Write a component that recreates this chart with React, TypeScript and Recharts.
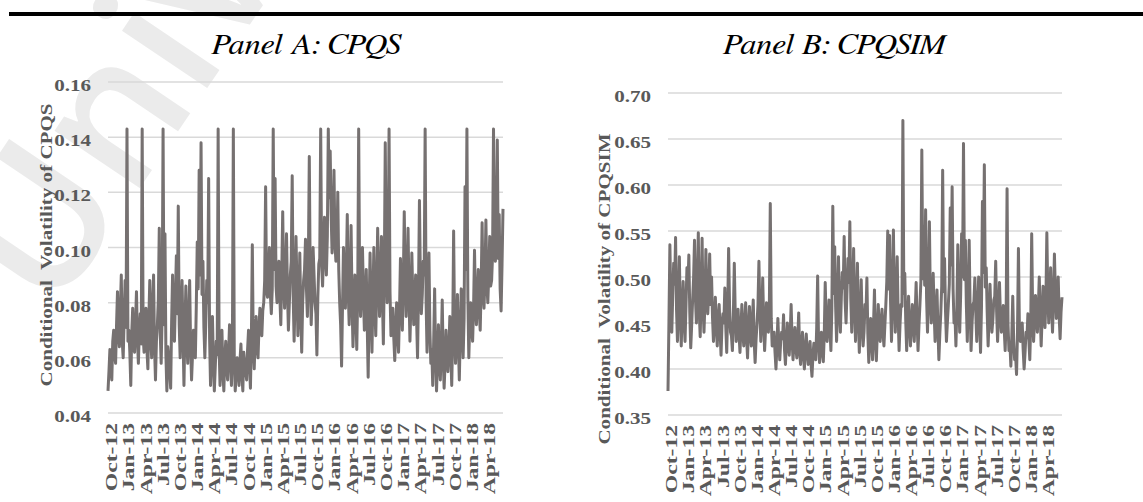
import React from 'react';
import { LineChart, Line, XAxis, YAxis, CartesianGrid } from 'recharts';

// Quarterly date labels on the horizontal axis (months since Oct 2012: 0, 3, 6, ...)
const quarterLabels = [
  'Oct-12', 'Jan-13', 'Apr-13', 'Jul-13', 'Oct-13', 'Jan-14', 'Apr-14', 'Jul-14',
  'Oct-14', 'Jan-15', 'Apr-15', 'Jul-15', 'Oct-15', 'Jan-16', 'Apr-16', 'Jul-16',
  'Oct-16', 'Jan-17', 'Apr-17', 'Jul-17', 'Oct-17', 'Jan-18', 'Apr-18',
];

// Observation window, in months since Oct 2012
const FIRST_MONTH = -0.6;
const LAST_MONTH = 68.4;

// Panel A: conditional volatility of CPQS
const cpqs = [
  0.048, 0.055, 0.063, 0.057, 0.052, 0.066, 0.070, 0.061, 0.058, 0.072, 0.084, 0.068, 0.064, 0.078, 0.090, 0.066, 0.060, 0.074, 0.088, 0.071,
  0.143, 0.066, 0.070, 0.062, 0.050, 0.069, 0.078, 0.064, 0.062, 0.073, 0.084, 0.067, 0.058, 0.070, 0.076, 0.065, 0.143, 0.068, 0.062, 0.071,
  0.078, 0.063, 0.056, 0.074, 0.088, 0.067, 0.060, 0.079, 0.090, 0.064, 0.052, 0.066, 0.072, 0.081, 0.107, 0.069, 0.058, 0.075, 0.143, 0.072,
  0.105, 0.061, 0.048, 0.064, 0.060, 0.055, 0.049, 0.073, 0.090, 0.070, 0.066, 0.082, 0.097, 0.076, 0.115, 0.072, 0.060, 0.074, 0.088, 0.068,
  0.050, 0.071, 0.086, 0.066, 0.058, 0.075, 0.088, 0.064, 0.052, 0.061, 0.070, 0.066, 0.060, 0.079, 0.102, 0.085, 0.128, 0.090, 0.138, 0.083,
  0.095, 0.071, 0.060, 0.073, 0.088, 0.080, 0.125, 0.067, 0.050, 0.062, 0.075, 0.058, 0.048, 0.057, 0.066, 0.061, 0.143, 0.064, 0.050, 0.058,
  0.070, 0.055, 0.048, 0.060, 0.066, 0.056, 0.052, 0.062, 0.072, 0.059, 0.050, 0.063, 0.143, 0.060, 0.048, 0.054, 0.060, 0.057, 0.050, 0.059,
  0.065, 0.054, 0.048, 0.062, 0.058, 0.055, 0.052, 0.063, 0.070, 0.058, 0.049, 0.067, 0.101, 0.064, 0.056, 0.068, 0.075, 0.063, 0.060, 0.071,
  0.078, 0.072, 0.068, 0.077, 0.080, 0.088, 0.122, 0.084, 0.082, 0.090, 0.100, 0.083, 0.076, 0.085, 0.143, 0.092, 0.125, 0.086, 0.080, 0.088,
  0.095, 0.082, 0.072, 0.091, 0.113, 0.087, 0.078, 0.089, 0.105, 0.084, 0.070, 0.080, 0.090, 0.095, 0.126, 0.083, 0.066, 0.081, 0.104, 0.086,
  0.068, 0.079, 0.098, 0.077, 0.062, 0.080, 0.088, 0.092, 0.103, 0.085, 0.075, 0.094, 0.133, 0.088, 0.072, 0.083, 0.100, 0.090, 0.080, 0.076,
  0.061, 0.082, 0.094, 0.096, 0.143, 0.094, 0.086, 0.099, 0.111, 0.097, 0.090, 0.104, 0.143, 0.118, 0.135, 0.112, 0.098, 0.106, 0.128, 0.102,
  0.095, 0.098, 0.120, 0.092, 0.080, 0.072, 0.057, 0.079, 0.100, 0.088, 0.078, 0.091, 0.112, 0.084, 0.072, 0.087, 0.108, 0.081, 0.064, 0.076,
  0.090, 0.077, 0.063, 0.084, 0.143, 0.088, 0.075, 0.086, 0.100, 0.083, 0.070, 0.081, 0.092, 0.072, 0.053, 0.078, 0.098, 0.079, 0.062, 0.082,
  0.100, 0.079, 0.068, 0.086, 0.107, 0.089, 0.075, 0.087, 0.104, 0.082, 0.065, 0.091, 0.138, 0.095, 0.080, 0.093, 0.143, 0.084, 0.068, 0.073,
  0.078, 0.067, 0.059, 0.071, 0.080, 0.069, 0.062, 0.077, 0.096, 0.081, 0.070, 0.087, 0.113, 0.090, 0.075, 0.086, 0.107, 0.083, 0.066, 0.079,
  0.098, 0.082, 0.072, 0.080, 0.090, 0.074, 0.060, 0.084, 0.117, 0.088, 0.076, 0.083, 0.095, 0.090, 0.143, 0.081, 0.062, 0.077, 0.098, 0.070,
  0.058, 0.063, 0.050, 0.066, 0.085, 0.061, 0.048, 0.059, 0.072, 0.057, 0.052, 0.064, 0.081, 0.060, 0.049, 0.058, 0.070, 0.061, 0.055, 0.063,
  0.075, 0.062, 0.050, 0.068, 0.106, 0.070, 0.058, 0.067, 0.083, 0.065, 0.052, 0.069, 0.085, 0.071, 0.060, 0.074, 0.122, 0.092, 0.143, 0.082,
  0.060, 0.073, 0.080, 0.071, 0.066, 0.078, 0.099, 0.080, 0.072, 0.083, 0.092, 0.077, 0.070, 0.086, 0.109, 0.084, 0.078, 0.089, 0.110, 0.087,
  0.080, 0.090, 0.104, 0.086, 0.088, 0.097, 0.143, 0.101, 0.095, 0.108, 0.139, 0.096, 0.112, 0.085, 0.077, 0.094, 0.114,
];

// Panel B: conditional volatility of CPQSIM
const cpqsim = [
  0.376, 0.452, 0.535, 0.470, 0.440, 0.480, 0.515, 0.492, 0.543, 0.465, 0.430, 0.478, 0.522, 0.458, 0.425, 0.466, 0.495, 0.452, 0.430, 0.470,
  0.510, 0.488, 0.524, 0.461, 0.423, 0.448, 0.475, 0.498, 0.540, 0.476, 0.450, 0.490, 0.548, 0.462, 0.435, 0.482, 0.542, 0.468, 0.440, 0.472,
  0.530, 0.476, 0.460, 0.484, 0.525, 0.470, 0.500, 0.456, 0.430, 0.452, 0.478, 0.446, 0.425, 0.455, 0.470, 0.442, 0.415, 0.448, 0.460, 0.450,
  0.488, 0.446, 0.418, 0.462, 0.531, 0.468, 0.440, 0.436, 0.420, 0.458, 0.515, 0.460, 0.430, 0.447, 0.465, 0.438, 0.418, 0.444, 0.470, 0.440,
  0.425, 0.448, 0.472, 0.434, 0.412, 0.446, 0.468, 0.437, 0.425, 0.452, 0.475, 0.430, 0.407, 0.432, 0.450, 0.470, 0.517, 0.461, 0.430, 0.456,
  0.499, 0.452, 0.420, 0.443, 0.472, 0.451, 0.440, 0.466, 0.580, 0.455, 0.425, 0.437, 0.440, 0.418, 0.400, 0.425, 0.455, 0.428, 0.410, 0.430,
  0.440, 0.433, 0.459, 0.421, 0.405, 0.429, 0.450, 0.426, 0.415, 0.437, 0.470, 0.432, 0.410, 0.427, 0.445, 0.424, 0.412, 0.433, 0.461, 0.419,
  0.405, 0.426, 0.440, 0.415, 0.400, 0.422, 0.438, 0.418, 0.405, 0.420, 0.430, 0.406, 0.392, 0.414, 0.428, 0.417, 0.410, 0.445, 0.501, 0.428,
  0.407, 0.424, 0.440, 0.419, 0.408, 0.438, 0.494, 0.451, 0.430, 0.447, 0.475, 0.444, 0.420, 0.466, 0.577, 0.482, 0.533, 0.468, 0.430, 0.472,
  0.522, 0.464, 0.440, 0.478, 0.505, 0.488, 0.544, 0.474, 0.450, 0.485, 0.520, 0.494, 0.560, 0.476, 0.440, 0.483, 0.531, 0.466, 0.430, 0.470,
  0.515, 0.455, 0.418, 0.452, 0.497, 0.449, 0.425, 0.441, 0.470, 0.459, 0.499, 0.438, 0.407, 0.436, 0.455, 0.429, 0.410, 0.448, 0.486, 0.433,
  0.409, 0.440, 0.470, 0.444, 0.430, 0.451, 0.465, 0.439, 0.425, 0.448, 0.470, 0.495, 0.550, 0.487, 0.545, 0.472, 0.430, 0.481, 0.551, 0.476,
  0.440, 0.480, 0.522, 0.458, 0.420, 0.449, 0.470, 0.468, 0.670, 0.482, 0.504, 0.453, 0.420, 0.455, 0.479, 0.447, 0.425, 0.450, 0.470, 0.446,
  0.430, 0.461, 0.494, 0.452, 0.420, 0.448, 0.470, 0.495, 0.638, 0.498, 0.555, 0.491, 0.573, 0.478, 0.440, 0.486, 0.560, 0.474, 0.450, 0.470,
  0.504, 0.462, 0.430, 0.459, 0.486, 0.444, 0.410, 0.438, 0.460, 0.490, 0.616, 0.484, 0.520, 0.463, 0.430, 0.451, 0.470, 0.492, 0.575, 0.513,
  0.598, 0.487, 0.450, 0.458, 0.425, 0.467, 0.535, 0.472, 0.440, 0.481, 0.547, 0.500, 0.645, 0.497, 0.540, 0.470, 0.430, 0.476, 0.540, 0.465,
  0.420, 0.449, 0.470, 0.473, 0.499, 0.461, 0.430, 0.463, 0.500, 0.452, 0.418, 0.468, 0.582, 0.505, 0.622, 0.489, 0.510, 0.462, 0.425, 0.455,
  0.492, 0.458, 0.440, 0.454, 0.475, 0.479, 0.517, 0.462, 0.430, 0.460, 0.494, 0.457, 0.440, 0.452, 0.469, 0.443, 0.420, 0.454, 0.596, 0.448,
  0.420, 0.428, 0.403, 0.436, 0.479, 0.431, 0.410, 0.415, 0.394, 0.440, 0.531, 0.447, 0.430, 0.433, 0.450, 0.421, 0.400, 0.418, 0.440, 0.434,
  0.460, 0.432, 0.410, 0.450, 0.547, 0.463, 0.430, 0.452, 0.480, 0.458, 0.440, 0.467, 0.500, 0.460, 0.425, 0.456, 0.490, 0.471, 0.445, 0.474,
  0.548, 0.482, 0.450, 0.473, 0.510, 0.466, 0.440, 0.477, 0.525, 0.484, 0.455, 0.479, 0.500, 0.458, 0.433, 0.462, 0.478,
];

const cpqsTicks = [0.04, 0.06, 0.08, 0.10, 0.12, 0.14, 0.16];
const cpqsimTicks = [0.35, 0.40, 0.45, 0.50, 0.55, 0.60, 0.65, 0.70];

const SERIF = "'Liberation Serif', 'Times New Roman', serif";
const SERIF_ITALIC = "FreeSerif, 'Liberation Serif', serif";
const AXIS_GREY = '#595959';
const LINE_GREY = '#767171';
const GRID_GREY = '#d9d9d9';
const WIDE = 1.24; // horizontal widening of the bold axis lettering
const WIDE_DATES = 1.39;

// Spread observations evenly over the sampling window
const toRows = (values: number[]) =>
  values.map((v, i) => ({
    month: FIRST_MONTH + (i * (LAST_MONTH - FIRST_MONTH)) / (values.length - 1),
    v,
  }));

const cpqsRows = toRows(cpqs);
const cpqsimRows = toRows(cpqsim);
const quarterTicks = quarterLabels.map((_, k) => k * 3);

const DateTick = (props: any) => {
  const { x, y, payload } = props;
  const label = quarterLabels[Math.round(payload.value / 3)];
  return (
    <g transform={`translate(${x},${y + 10}) rotate(-90) scale(${WIDE_DATES},1)`}>
      <text
        x={0}
        y={0}
        dy="0.34em"
        textAnchor="end"
        fontFamily={SERIF}
        fontWeight="bold"
        fontSize={17}
        fill={AXIS_GREY}
      >
        {label}
      </text>
    </g>
  );
};

const ValueTick = (props: any) => {
  const { x, y, payload } = props;
  return (
    <g transform={`translate(${x - 17},${y + 9}) scale(${WIDE},1)`}>
      <text
        x={0}
        y={0}
        textAnchor="end"
        fontFamily={SERIF}
        fontWeight="bold"
        fontSize={17}
        fill={AXIS_GREY}
      >
        {Number(payload.value).toFixed(2)}
      </text>
    </g>
  );
};

type PanelProps = {
  rows: { month: number; v: number }[];
  ticks: number[];
  width: number;
  margin: { top: number; right: number; bottom: number; left: number };
};

const Panel = ({ rows, ticks, width, margin }: PanelProps) => (
  <LineChart width={width} height={502} data={rows} margin={margin}>
    <CartesianGrid vertical={false} stroke={GRID_GREY} strokeWidth={1.5} />
    <XAxis
      type="number"
      dataKey="month"
      domain={[FIRST_MONTH, LAST_MONTH]}
      ticks={quarterTicks}
      interval={0}
      height={80}
      axisLine={false}
      tickLine={false}
      tickSize={0}
      tickMargin={0}
      tick={<DateTick />}
    />
    <YAxis
      type="number"
      domain={[ticks[0], ticks[ticks.length - 1]]}
      ticks={ticks}
      interval={0}
      width={60}
      axisLine={false}
      tickLine={false}
      tickSize={0}
      tickMargin={0}
      tick={<ValueTick />}
    />
    <Line
      type="linear"
      dataKey="v"
      stroke={LINE_GREY}
      strokeWidth={3}
      strokeLinejoin="round"
      dot={false}
      isAnimationActive={false}
    />
  </LineChart>
);

const AxisTitle = ({ x, y, text }: { x: number; y: number; text: string }) => (
  <g transform={`translate(${x},${y}) rotate(-90) scale(${WIDE},1)`}>
    <text
      x={0}
      y={0}
      textAnchor="middle"
      fontFamily={SERIF}
      fontWeight="bold"
      fontSize={17}
      fill={AXIS_GREY}
      xmlSpace="preserve"
    >
      {text}
    </text>
  </g>
);

const PanelTitle = ({ x, text }: { x: number; text: string }) => (
  <g transform={`translate(${x},54) scale(1.12,1)`}>
    <text x={0} y={0} textAnchor="middle" fontFamily={SERIF_ITALIC} fontStyle="italic" fontSize={29} fill="#000">
      {text}
    </text>
  </g>
);

export default function App() {
  return (
    <div
      style={{
        position: 'absolute',
        left: 0,
        top: 0,
        width: 1143,
        height: 502,
        background: '#ffffff',
        overflow: 'hidden',
      }}
    >
      <svg width={1143} height={502} style={{ position: 'absolute', left: 0, top: 0 }}>
        <text
          x={52}
          y={318}
          transform="rotate(-56 52 318)"
          fontFamily="'Open Sans', sans-serif"
          fontWeight={600}
          fontSize={190}
          fill="#ebebeb"
        >
          Univ
        </text>
        <rect x={9} y={12} width={1134} height={4} fill="#000" />
      </svg>
      <div style={{ position: 'absolute', left: 0, top: 0 }}>
        <Panel rows={cpqsRows} ticks={cpqsTicks} width={560} margin={{ top: 82, right: 57, bottom: 9, left: 48 }} />
      </div>
      <div style={{ position: 'absolute', left: 560, top: 0 }}>
        <Panel rows={cpqsimRows} ticks={cpqsimTicks} width={583} margin={{ top: 93, right: 81, bottom: 7, left: 48 }} />
      </div>
      <svg width={1143} height={502} style={{ position: 'absolute', left: 0, top: 0, pointerEvents: 'none' }}>
        <PanelTitle x={306} text="Panel A: CPQS" />
        <PanelTitle x={834} text="Panel B: CPQSIM" />
        <AxisTitle x={52} y={245} text="Conditional  Volatility of CPQS" />
        <AxisTitle x={610} y={289} text="Conditional  Volatility of CPQSIM" />
      </svg>
    </div>
  );
}
